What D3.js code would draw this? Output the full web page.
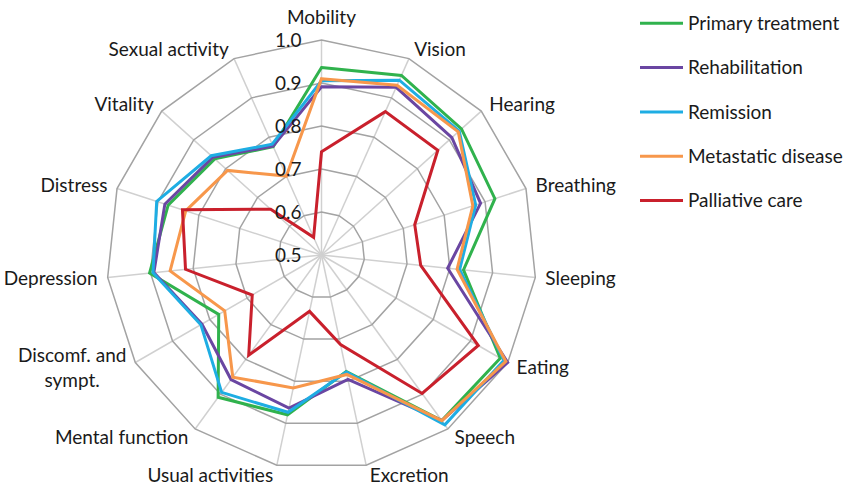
<!DOCTYPE html>
<html>
<head>
<meta charset="utf-8">
<script src="https://cdn.jsdelivr.net/npm/d3@7"></script>
<style>
  body { margin: 0; background: #fff; }
  text { font-family: Lato, "Open Sans", sans-serif; fill: #1a1a1a; }
</style>
</head>
<body>
<div id="chart"></div>
<script>
const width = 844;
const height = 487;

// categories, clockwise from the top
const categories = ["Mobility", "Vision", "Hearing", "Breathing", "Sleeping", "Eating", "Speech",
    "Excretion", "Usual activities", "Mental function", "Discomf. and\nsympt.", "Depression",
    "Distress", "Vitality", "Sexual activity"];

const seriesNames = ["Primary treatment", "Rehabilitation", "Remission", "Metastatic disease", "Palliative care"];
const seriesColors = ["#30b24d", "#6a46a2", "#1eade3", "#f7974b", "#c9202c"];

const primary    = [0.936, 0.957, 0.938, 0.924, 0.832, 0.980, 0.976, 0.777, 0.880, 0.909, 0.776, 0.902, 0.875, 0.834, 0.776];
const rehab      = [0.891, 0.927, 0.908, 0.889, 0.795, 1.000, 0.976, 0.796, 0.864, 0.858, 0.821, 0.892, 0.883, 0.840, 0.777];
const remission  = [0.905, 0.945, 0.931, 0.877, 0.823, 0.990, 0.988, 0.778, 0.874, 0.895, 0.824, 0.894, 0.903, 0.845, 0.782];
const metastatic = [0.910, 0.932, 0.928, 0.870, 0.817, 0.995, 0.976, 0.784, 0.816, 0.851, 0.760, 0.854, 0.832, 0.794, 0.701];
const palliative = [0.740, 0.865, 0.864, 0.728, 0.732, 0.921, 0.898, 0.713, 0.634, 0.788, 0.686, 0.818, 0.840, 0.659, 0.545];

const seriesValues = [primary, rehab, remission, metastatic, palliative];
const ticks = [0.5, 0.6, 0.7, 0.8, 0.9, 1.0];

const cx = 321.5, cy = 255, R = 215;

const svg = d3.select("#chart")
    .append("svg")
    .attr("width", width)
    .attr("height", height);

const r = d3.scaleLinear().domain([0.5, 1.0]).range([0, R]);
const angle = d3.scaleLinear().domain([0, categories.length]).range([0, 2 * Math.PI]);

function pt(i, v) {
    const a = angle(i);
    return [cx + r(v) * Math.sin(a), cy - r(v) * Math.cos(a)];
}

const g = svg.append("g");

// spokes
g.selectAll("line.spoke")
    .data(categories)
    .enter()
    .append("line")
    .attr("class", "spoke")
    .attr("x1", cx).attr("y1", cy)
    .attr("x2", (d, i) => pt(i, 1.0)[0])
    .attr("y2", (d, i) => pt(i, 1.0)[1])
    .attr("stroke", "#d0d0d0")
    .attr("stroke-width", 1.5);

// rings
g.selectAll("polygon.ring")
    .data(ticks.filter(t => t > 0.5))
    .enter()
    .append("polygon")
    .attr("points", t => categories.map((c, i) => pt(i, t).join(",")).join(" "))
    .attr("fill", "none")
    .attr("stroke", "#a3a3a3")
    .attr("stroke-width", 1.5);

// series
const line = d3.line().curve(d3.curveLinearClosed);
g.selectAll("path.series")
    .data(seriesValues)
    .enter()
    .append("path")
    .attr("class", "series")
    .attr("d", vals => line(vals.map((v, i) => pt(i, v))))
    .attr("fill", "none")
    .attr("stroke", (d, i) => seriesColors[i])
    .attr("stroke-width", 3)
    .attr("stroke-linejoin", "miter");

// tick labels
svg.selectAll("text.tick")
    .data(ticks)
    .enter()
    .append("text")
    .attr("class", "tick")
    .attr("x", cx - 20)
    .attr("y", t => cy - r(t))
    .attr("dy", "0.35em")
    .attr("text-anchor", "end")
    .attr("font-size", "19px")
    .text(d3.format(".1f"));

// category labels
categories.forEach((c, i) => {
    const a = angle(i);
    const s = Math.sin(a), co = Math.cos(a);
    const [ox, oy] = pt(i, 1.0);
    const lines = c.split("\n");
    const lh = 25;
    let x, anchor, yc;
    if (Math.abs(s) < 0.05) {
        x = ox; anchor = "middle";
        yc = oy - co * 23;
    } else {
        x = ox + Math.sign(s) * (2 + 8 * Math.abs(s));
        anchor = s > 0 ? "start" : "end";
        yc = oy - co * 10;
    }
    const t = svg.append("text")
        .attr("font-size", "19px")
        .attr("text-anchor", anchor);
    lines.forEach((l, k) => {
        t.append("tspan")
            .attr("x", x)
            .attr("y", yc + (k - (lines.length - 1) / 2) * lh)
            .attr("dy", "0.35em")
            .text(l);
    });
    if (lines.length > 1) {
        // centre the lines on each other, keep the block right aligned
        const spans = t.selectAll("tspan").nodes();
        const wMax = d3.max(spans, n => n.getComputedTextLength());
        t.attr("text-anchor", "middle");
        spans.forEach(n => n.setAttribute("x", anchor === "end" ? x - wMax / 2 : x + wMax / 2));
    }
});

// legend
const legend = svg.selectAll("g.legend")
    .data(seriesNames)
    .enter()
    .append("g")
    .attr("transform", (d, i) => `translate(640, ${23.3 + i * 44.3})`);

legend.append("line")
    .attr("x1", 0).attr("x2", 43)
    .attr("stroke", (d, i) => seriesColors[i])
    .attr("stroke-width", 3);

legend.append("text")
    .attr("x", 48)
    .attr("dy", "0.35em")
    .attr("font-size", "19px")
    .text(d => d);
</script>
</body>
</html>
